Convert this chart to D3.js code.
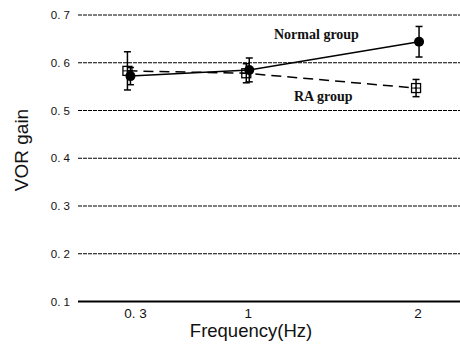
<!DOCTYPE html>
<html>
<head>
<meta charset="utf-8">
<script src="https://cdn.jsdelivr.net/npm/d3@7"></script>
<style>
  body { margin: 0; background: #fff; }
  svg { display: block; }
</style>
</head>
<body>
<div id="app"></div>
<script>
// chart values
var freqs = [0.3, 1, 2]
var freqLabels = ['0. 3', '1', '2']
var yTicks = [0.1, 0.2, 0.3, 0.4, 0.5, 0.6, 0.7]

var normalMean = [0.572, 0.585, 0.644]
var normalErr = [0.018, 0.025, 0.032]
var raMean = [0.583, 0.578, 0.547]
var raErr = [0.040, 0.020, 0.018]

var width = 460
var height = 348

var svg = d3.select('#app')
	.append('svg')
	  .attr('width', width)
	  .attr('height', height)

var x = d3.scaleLinear().domain([0, 2.25]).range([78, 460])
var y = d3.scaleLinear().domain([0.1, 0.7]).range([301.5, 15])

// gridlines (dashed) except the bottom one which is the axis
svg.append('g')
	.selectAll('line')
	.data(yTicks.filter(function(d) { return d > 0.1 }))
  .enter().append('line')
	.attr('x1', x.range()[0])
	.attr('x2', x.range()[1])
	.attr('y1', function(d) { return y(d) })
	.attr('y2', function(d) { return y(d) })
	.attr('stroke', '#000')
	.attr('stroke-width', 1.2)
	.attr('stroke-dasharray', '4,1')

// bottom axis line
svg.append('line')
	.attr('x1', x.range()[0])
	.attr('x2', x.range()[1])
	.attr('y1', y(0.1))
	.attr('y2', y(0.1))
	.attr('stroke', '#000')
	.attr('stroke-width', 2)

// y axis labels
var yAxis = d3.axisLeft(y)
	.tickValues(yTicks)
	.tickSize(0)
	.tickPadding(8)
	.tickFormat(function(d) { return d3.format('.1f')(d).replace('.', '. ') })

svg.append('g')
	.attr('transform', 'translate(' + x.range()[0] + ',0)')
	.call(yAxis)
	.call(function(g) { g.select('.domain').remove() })
	.selectAll('text')
	  .attr('font-family', 'Liberation Sans, Arial, sans-serif')
	  .attr('font-size', 11.5)
	  .attr('fill', '#111')

// x axis labels
var xAxis = d3.axisBottom(x)
	.tickValues(freqs)
	.tickSize(0)
	.tickPadding(7)
	.tickFormat(function(d, i) { return freqLabels[i] })

svg.append('g')
	.attr('transform', 'translate(0,' + y(0.1) + ')')
	.call(xAxis)
	.call(function(g) { g.select('.domain').remove() })
	.selectAll('text')
	  .attr('font-family', 'Liberation Sans, Arial, sans-serif')
	  .attr('font-size', 13.5)
	  .attr('fill', '#111')
	  .attr('dx', function(d, i) { return i === 0 ? 6 : 0 })

// axis titles
svg.append('text')
	.attr('x', 251)
	.attr('y', 337)
	.attr('text-anchor', 'middle')
	.attr('font-family', 'Liberation Sans, Arial, sans-serif')
	.attr('font-size', 18.5)
	.attr('fill', '#111')
	.text('Frequency(Hz)')

svg.append('text')
	.attr('transform', 'translate(28,150) rotate(-90)')
	.attr('text-anchor', 'middle')
	.attr('font-family', 'Liberation Sans, Arial, sans-serif')
	.attr('font-size', 19)
	.attr('fill', '#111')
	.text('VOR gain')

function series(mean, err, dx) {
	return freqs.map(function(f, i) {
		return { f: f, v: mean[i], e: err[i], dx: dx }
	})
}

var normal = series(normalMean, normalErr, 1.5)
var ra = series(raMean, raErr, -1.5)

var line = d3.line()
	.x(function(d) { return x(d.f) + d.dx })
	.y(function(d) { return y(d.v) })

// RA group (dashed)
svg.append('path')
	.datum(ra)
	.attr('d', line)
	.attr('fill', 'none')
	.attr('stroke', '#000')
	.attr('stroke-width', 1.5)
	.attr('stroke-dasharray', '10,6')

// normal group (solid)
svg.append('path')
	.datum(normal)
	.attr('d', line)
	.attr('fill', 'none')
	.attr('stroke', '#000')
	.attr('stroke-width', 1.5)

// error bars
function errorBars(data) {
	var g = svg.append('g').attr('stroke', '#000').attr('stroke-width', 1.5)
	g.selectAll('.bar').data(data).enter().append('line')
		.attr('x1', function(d) { return x(d.f) + d.dx })
		.attr('x2', function(d) { return x(d.f) + d.dx })
		.attr('y1', function(d) { return y(d.v + d.e) })
		.attr('y2', function(d) { return y(d.v - d.e) })
	g.selectAll('.capTop').data(data).enter().append('line')
		.attr('x1', function(d) { return x(d.f) + d.dx - 3.5 })
		.attr('x2', function(d) { return x(d.f) + d.dx + 3.5 })
		.attr('y1', function(d) { return y(d.v + d.e) })
		.attr('y2', function(d) { return y(d.v + d.e) })
	g.selectAll('.capBot').data(data).enter().append('line')
		.attr('x1', function(d) { return x(d.f) + d.dx - 3.5 })
		.attr('x2', function(d) { return x(d.f) + d.dx + 3.5 })
		.attr('y1', function(d) { return y(d.v - d.e) })
		.attr('y2', function(d) { return y(d.v - d.e) })
}

errorBars(ra)
errorBars(normal)

// RA markers: open square with cross
var raMarks = svg.append('g').selectAll('g').data(ra).enter().append('g')
	.attr('transform', function(d) { return 'translate(' + (x(d.f) + d.dx) + ',' + y(d.v) + ')' })
raMarks.append('rect')
	.attr('x', -4.5).attr('y', -4.5).attr('width', 9).attr('height', 9)
	.attr('fill', 'none').attr('stroke', '#000').attr('stroke-width', 1.3)
raMarks.append('line')
	.attr('x1', -4.5).attr('x2', 4.5).attr('y1', 0).attr('y2', 0)
	.attr('stroke', '#000').attr('stroke-width', 1)

// normal markers: filled circles
svg.append('g').selectAll('circle').data(normal).enter().append('circle')
	.attr('cx', function(d) { return x(d.f) + d.dx })
	.attr('cy', function(d) { return y(d.v) })
	.attr('r', 5)
	.attr('fill', '#000')

// group annotations
svg.append('text')
	.attr('x', 274)
	.attr('y', 39)
	.attr('font-family', 'Liberation Serif, Times New Roman, serif')
	.attr('font-weight', 'bold')
	.attr('font-size', 14)
	.attr('fill', '#111')
	.text('Normal group')

svg.append('text')
	.attr('x', 294)
	.attr('y', 101)
	.attr('font-family', 'Liberation Serif, Times New Roman, serif')
	.attr('font-weight', 'bold')
	.attr('font-size', 14)
	.attr('fill', '#111')
	.text('RA group')
</script>
</body>
</html>
